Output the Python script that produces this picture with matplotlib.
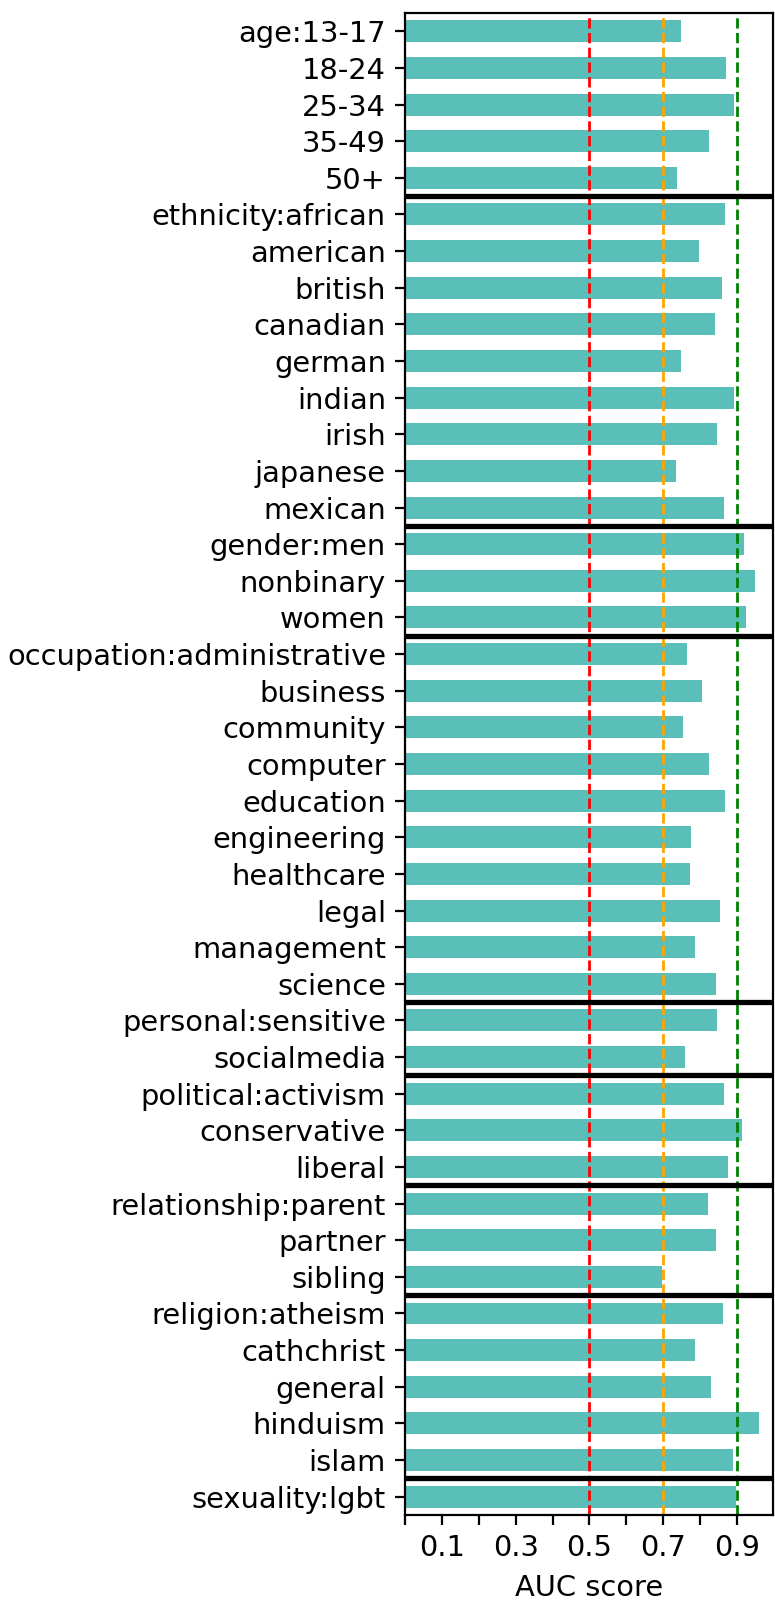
import numpy as np
import matplotlib
matplotlib.use('Agg')
import matplotlib.pyplot as plt

# group labels and AUC scores
group_names = ['age', 'ethnicity', 'gender', 'occupation', 'personal',
               'political', 'relationship', 'religion', 'sexuality']
group_items = [
    ['13-17', '18-24', '25-34', '35-49', '50+'],
    ['african', 'american', 'british', 'canadian', 'german', 'indian',
     'irish', 'japanese', 'mexican'],
    ['men', 'nonbinary', 'women'],
    ['administrative', 'business', 'community', 'computer', 'education',
     'engineering', 'healthcare', 'legal', 'management', 'science'],
    ['sensitive', 'socialmedia'],
    ['activism', 'conservative', 'liberal'],
    ['parent', 'partner', 'sibling'],
    ['atheism', 'cathchrist', 'general', 'hinduism', 'islam'],
    ['lgbt'],
]
auc_age = [0.750, 0.872, 0.894, 0.826, 0.737]
auc_ethnicity = [0.869, 0.799, 0.861, 0.842, 0.748, 0.894, 0.848, 0.734, 0.867]
auc_gender = [0.921, 0.950, 0.926]
auc_occupation = [0.764, 0.805, 0.753, 0.826, 0.869, 0.777, 0.772, 0.856, 0.786, 0.845]
auc_personal = [0.848, 0.759]
auc_political = [0.867, 0.915, 0.877]
auc_relationship = [0.823, 0.845, 0.696]
auc_religion = [0.864, 0.786, 0.829, 0.961, 0.891]
auc_sexuality = [0.899]

thresholds = [0.5, 0.7, 0.9]
threshold_colors = ['red', 'orange', 'green']

plt.rcParams['font.size'] = 10.4

# build flat lists
labels = []
scores = []
for name, items, vals in zip(group_names, group_items,
                             [auc_age, auc_ethnicity, auc_gender, auc_occupation,
                              auc_personal, auc_political, auc_relationship,
                              auc_religion, auc_sexuality]):
    for i, (it, v) in enumerate(zip(items, vals)):
        labels.append(f'{name}:{it}' if i == 0 else it)
        scores.append(v)

y = np.arange(len(labels))

fig = plt.figure(figsize=(3.875, 8.02), dpi=200)
ax = fig.add_axes([0.523, 0.0555, 0.475, 0.9364])

ax.barh(y, scores, height=0.6, color='#5ABFB9')

for t, c in zip(thresholds, threshold_colors):
    ax.axvline(t, color=c, linestyle='--', linewidth=1)

# group separators
bounds = np.cumsum([len(g) for g in group_items])[:-1]
for b in bounds:
    ax.axhline(b - 0.5, color='black', linewidth=1.9)

ax.set_yticks(y)
ax.set_yticklabels(labels)
ax.set_ylim(len(labels) - 0.5, -0.5)

xt = np.round(np.arange(0, 1.0, 0.1), 1)
ax.set_xticks(xt)
ax.set_xticklabels([f'{v:.1f}' if i % 2 == 1 else '' for i, v in enumerate(xt)])
ax.set_xlim(0, 1)
ax.set_xlabel('AUC score')

fig.savefig('out.png', dpi=200)
